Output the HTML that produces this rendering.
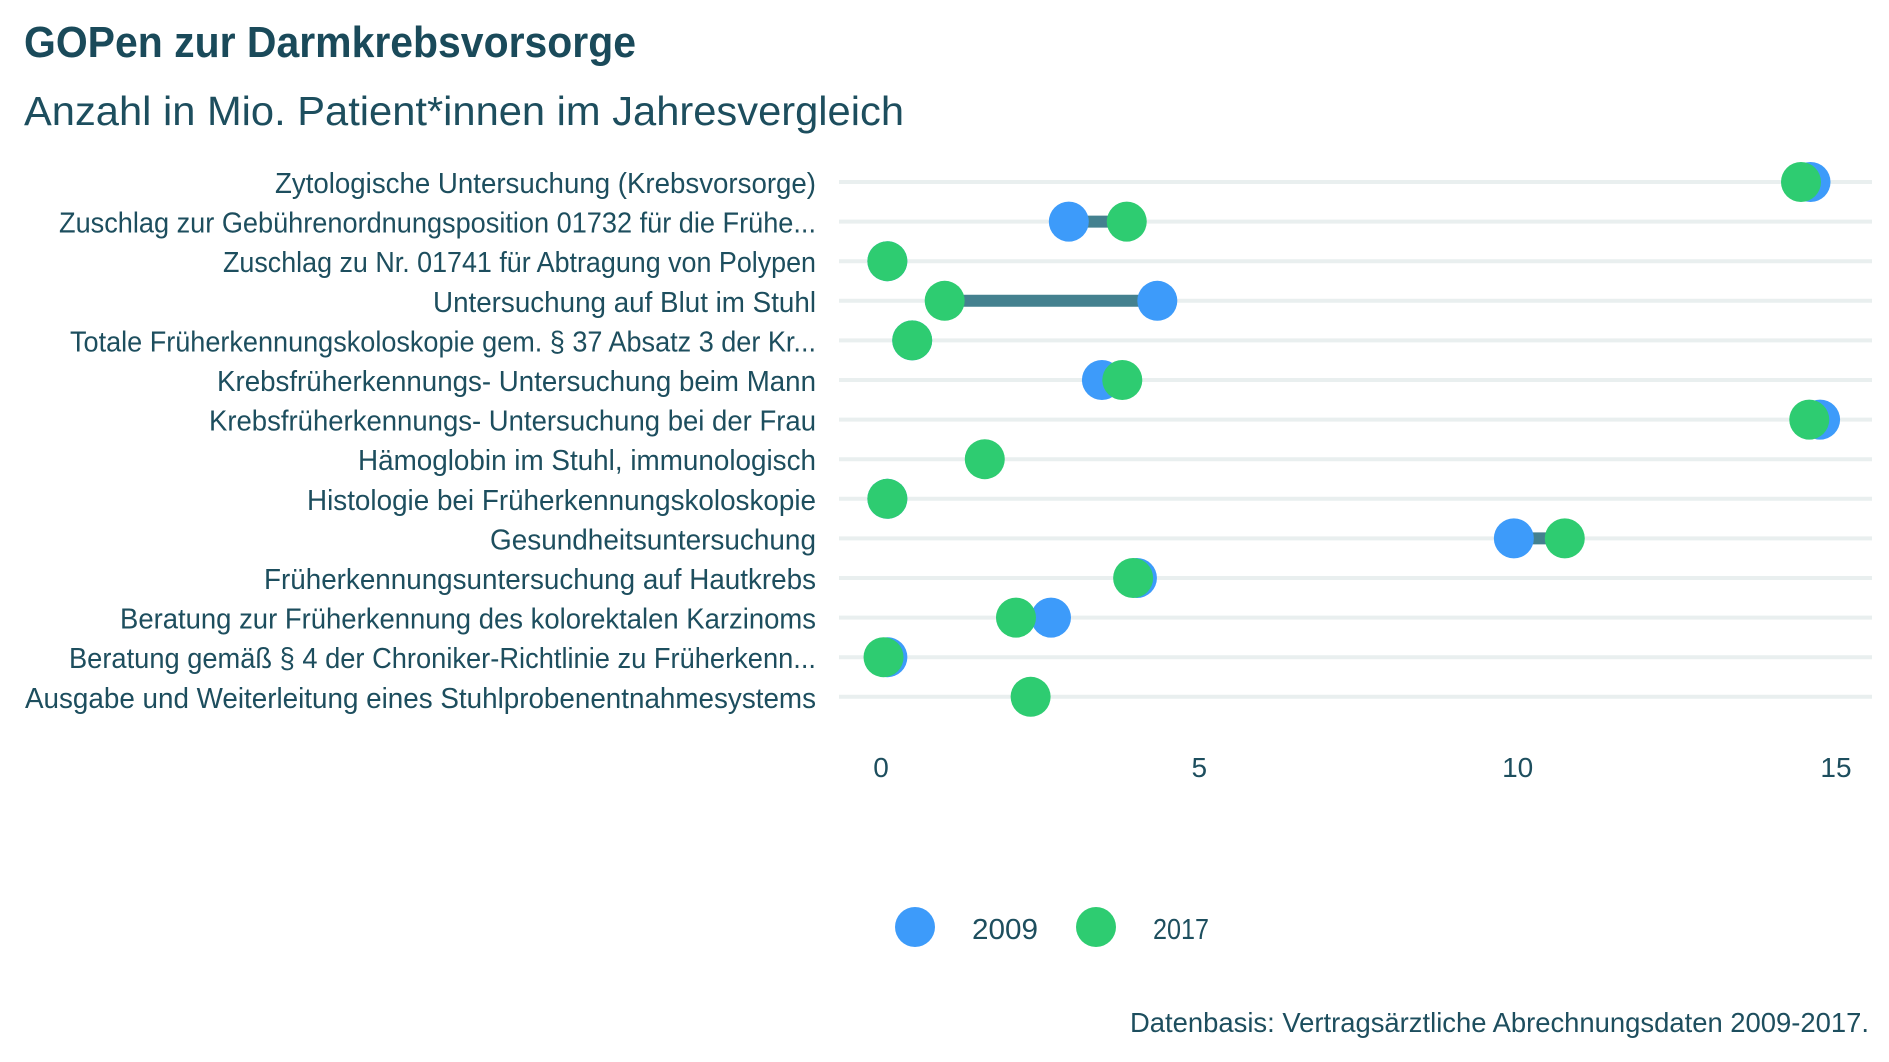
<!DOCTYPE html>
<html><head><meta charset="utf-8"><style>
html,body{margin:0;padding:0;background:#fff;}
svg{display:block;font-family:"Liberation Sans",sans-serif;}
</style></head><body>
<svg id="chart" width="1889" height="1062" viewBox="0 0 1889 1062" xmlns="http://www.w3.org/2000/svg">
<text x="24" y="57" font-size="44" font-weight="bold" fill="#1a4a5a" textLength="612" lengthAdjust="spacingAndGlyphs">GOPen zur Darmkrebsvorsorge</text>
<text x="24" y="125" font-size="41" fill="#1d4e5e" textLength="880" lengthAdjust="spacingAndGlyphs">Anzahl in Mio. Patient*innen im Jahresvergleich</text>
<g id="grid"></g><g id="labels"></g><g id="marks"></g><g id="ticks"></g>
<g>
<circle cx="915" cy="927" r="20" fill="#3d9bfa"/>
<text x="972" y="939" font-size="29" fill="#1d4e5e" textLength="66" lengthAdjust="spacingAndGlyphs">2009</text>
<circle cx="1096" cy="927" r="20" fill="#2ecc71"/>
<text x="1153" y="939" font-size="29" fill="#1d4e5e" textLength="56" lengthAdjust="spacingAndGlyphs">2017</text>
</g>
<text x="1130" y="1032" font-size="28" fill="#1d4e5e" textLength="739" lengthAdjust="spacingAndGlyphs">Datenbasis: Vertragsärztliche Abrechnungsdaten 2009-2017.</text>
</svg>
<script>
const categories = ["Zytologische Untersuchung (Krebsvorsorge)","Zuschlag zur Gebührenordnungsposition 01732 für die Frühe...","Zuschlag zu Nr. 01741 für Abtragung von Polypen","Untersuchung auf Blut im Stuhl","Totale Früherkennungskoloskopie gem. § 37 Absatz 3 der Kr...","Krebsfrüherkennungs- Untersuchung beim Mann","Krebsfrüherkennungs- Untersuchung bei der Frau","Hämoglobin im Stuhl, immunologisch","Histologie bei Früherkennungskoloskopie","Gesundheitsuntersuchung","Früherkennungsuntersuchung auf Hautkrebs","Beratung zur Früherkennung des kolorektalen Karzinoms","Beratung gemäß § 4 der Chroniker-Richtlinie zu Früherkenn...","Ausgabe und Weiterleitung eines Stuhlprobenentnahmesystems"];
const values2009 = [14.6, 2.95, 0.1, 4.34, 0.49, 3.47, 14.75, null, 0.1, 9.94, 4.02, 2.67, 0.1, null];
const values2017 = [14.45, 3.86, 0.1, 1.0, 0.49, 3.79, 14.58, 1.63, 0.1, 10.74, 3.96, 2.12, 0.04, 2.35];
const xTicks = [0, 5, 10, 15];
const labelWidths = [541,757,593,383,746,599,607,458,509,326,552,696,747,791];

const NS = "http://www.w3.org/2000/svg";
const x = v => 881 + v * (1836 - 881) / 15;
const y = i => 182 + i * 39.6;
function mk(tag, attrs, parent){const e=document.createElementNS(NS,tag);for(const k in attrs)e.setAttribute(k,attrs[k]);parent.appendChild(e);return e;}
const grid=document.getElementById('grid'),labels=document.getElementById('labels'),marks=document.getElementById('marks'),ticks=document.getElementById('ticks');
categories.forEach((c,i)=>{
  const g=mk('line',{x1:839,x2:1872,y1:y(i),y2:y(i),stroke:'#e9efef','stroke-width':4},grid);
  
  
  const t=mk('text',{x:816,y:y(i)+11,'text-anchor':'end','font-size':29,fill:'#1d4e5e',textLength:labelWidths[i],lengthAdjust:'spacingAndGlyphs'},labels);
  t.textContent=c;
  
  
  const a=values2009[i],b=values2017[i];
  if(a!=null&&b!=null){
    const l=mk('line',{x1:x(a),x2:x(b),y1:y(i),y2:y(i),stroke:'#44818f','stroke-width':12},marks);
    
    
  }
  if(a!=null){
    const d=mk('circle',{cx:x(a),cy:y(i),r:20,fill:'#3d9bfa'},marks);
    
    
  }
  if(b!=null){
    const d=mk('circle',{cx:x(b),cy:y(i),r:20,fill:'#2ecc71'},marks);
    
    
  }
});
xTicks.forEach(v=>{
  const t=mk('text',{x:x(v),y:777,'text-anchor':'middle','font-size':28,fill:'#1d4e5e'},ticks);
  t.textContent=v;
  
  
});
</script>
</body></html>
